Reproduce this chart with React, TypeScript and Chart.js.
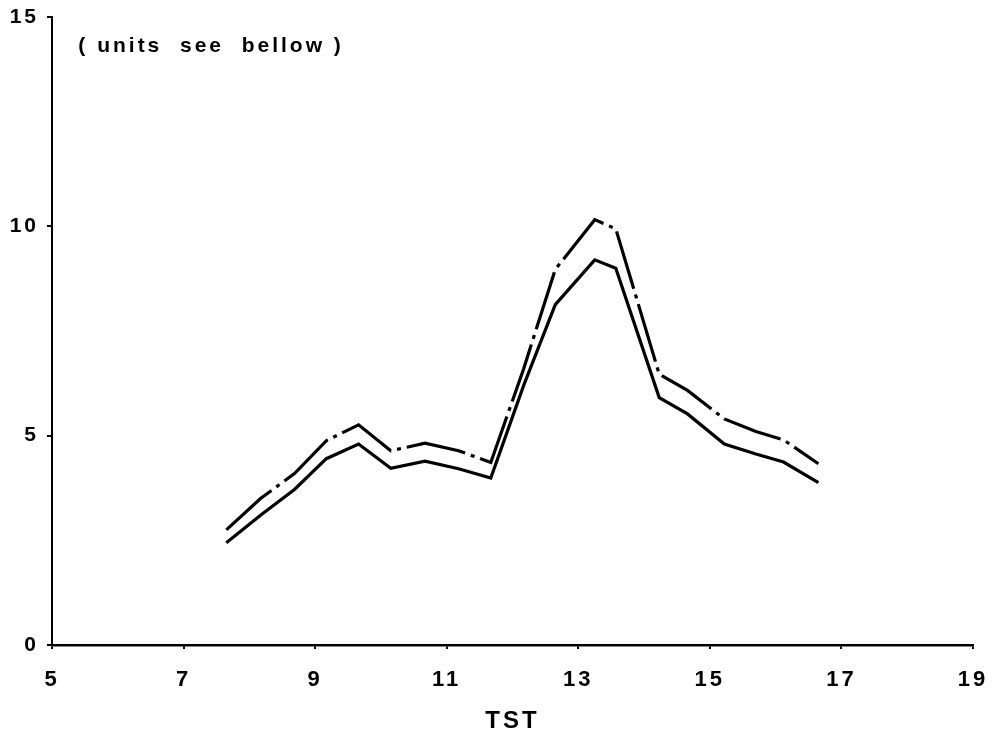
import React, { useEffect, useRef } from "react";
import { Chart, registerables } from "chart.js";

Chart.register(...registerables);

const timesTST = [7.65, 8.17, 8.69, 9.17, 9.66, 10.15, 10.67, 11.18, 11.67, 12.17, 12.65, 13.25, 13.57, 14.23, 14.66, 15.22, 15.7, 16.12, 16.65];
const upperSeries = [2.75, 3.5, 4.1, 4.88, 5.26, 4.64, 4.82, 4.64, 4.36, 6.6, 8.97, 10.16, 9.94, 6.47, 6.08, 5.4, 5.1, 4.9, 4.33];
const lowerSeries = [2.44, 3.1, 3.72, 4.45, 4.8, 4.22, 4.39, 4.21, 3.99, 6.2, 8.13, 9.2, 9.0, 5.91, 5.52, 4.8, 4.56, 4.37, 3.88];
const xTicks = [5, 7, 9, 11, 13, 15, 17, 19];
const yTicks = [0, 5, 10, 15];
const noteText = "( units  see  bellow )";
const xTitle = "TST";

const FONT = "'Liberation Sans', Arial, sans-serif";

const notePlugin = {
  id: "noteText",
  beforeDraw(chart: any) {
    chart.ctx.letterSpacing = "3px";
  },
  afterDraw(chart: any) {
    const ctx = chart.ctx;
    ctx.save();
    ctx.letterSpacing = "3px";
    ctx.font = `bold 21px ${FONT}`;
    ctx.fillStyle = "#000";
    ctx.textBaseline = "middle";
    ctx.textAlign = "left";
    const xs = chart.scales.x;
    const ys = chart.scales.y;
    ctx.fillText(noteText, xs.getPixelForValue(5.4), ys.getPixelForValue(14.3));
    ctx.restore();
  },
};

export default function App() {
  const ref = useRef<HTMLCanvasElement | null>(null);
  useEffect(() => {
    if (!ref.current) return;
    const toPts = (ys: number[]) => ys.map((y, i) => ({ x: timesTST[i], y }));
    const chart = new Chart(ref.current, {
      type: "line",
      data: {
        datasets: [
          {
            label: "upper",
            data: toPts(upperSeries),
            borderColor: "#000",
            borderWidth: 3.2,
            borderDash: [60, 6, 4, 6],
            pointRadius: 0,
            tension: 0,
            fill: false,
          },
          {
            label: "lower",
            data: toPts(lowerSeries),
            borderColor: "#000",
            borderWidth: 3.2,
            pointRadius: 0,
            tension: 0,
            fill: false,
          },
        ],
      },
      options: {
        animation: false,
        responsive: false,
        maintainAspectRatio: false,
        layout: { padding: { top: 17, right: 21, left: 0, bottom: 0 } },
        plugins: { legend: { display: false }, tooltip: { enabled: false } },
        scales: {
          x: {
            type: "linear",
            min: 5,
            max: 19,
            afterBuildTicks: (s: any) => {
              s.ticks = xTicks.map((v) => ({ value: v }));
            },
            afterFit: (s: any) => {
              s.height = 91;
              s.paddingLeft = 0;
              s.paddingRight = 0;
            },
            border: { color: "#000", width: 2.5 },
            grid: { drawOnChartArea: false, drawTicks: true, tickLength: 4, color: "#000", lineWidth: 2 },
            ticks: {
              color: "#000",
              padding: 18,
              font: { family: FONT, size: 22, weight: "bold" },
              maxRotation: 0,
            },
            title: {
              display: true,
              text: xTitle,
              color: "#000",
              font: { family: FONT, size: 24, weight: "bold" },
              padding: { top: 0, bottom: 0 },
            },
          },
          y: {
            type: "linear",
            min: 0,
            max: 15,
            afterBuildTicks: (s: any) => {
              s.ticks = yTicks.map((v) => ({ value: v }));
            },
            afterFit: (s: any) => {
              s.width = 52;
              s.paddingTop = 0;
              s.paddingBottom = 0;
            },
            border: { color: "#000", width: 2 },
            grid: { drawOnChartArea: false, drawTicks: true, tickLength: 5, color: "#000", lineWidth: 2 },
            ticks: {
              color: "#000",
              padding: 8,
              font: { family: FONT, size: 21, weight: "bold" },
            },
          },
        },
      },
      plugins: [notePlugin],
    });
    return () => chart.destroy();
  }, []);
  return (
    <div style={{ position: "absolute", left: 0, top: 0, width: 994, height: 736, background: "#fff" }}>
      <canvas ref={ref} width={994} height={736} style={{ width: 994, height: 736 }} />
    </div>
  );
}
